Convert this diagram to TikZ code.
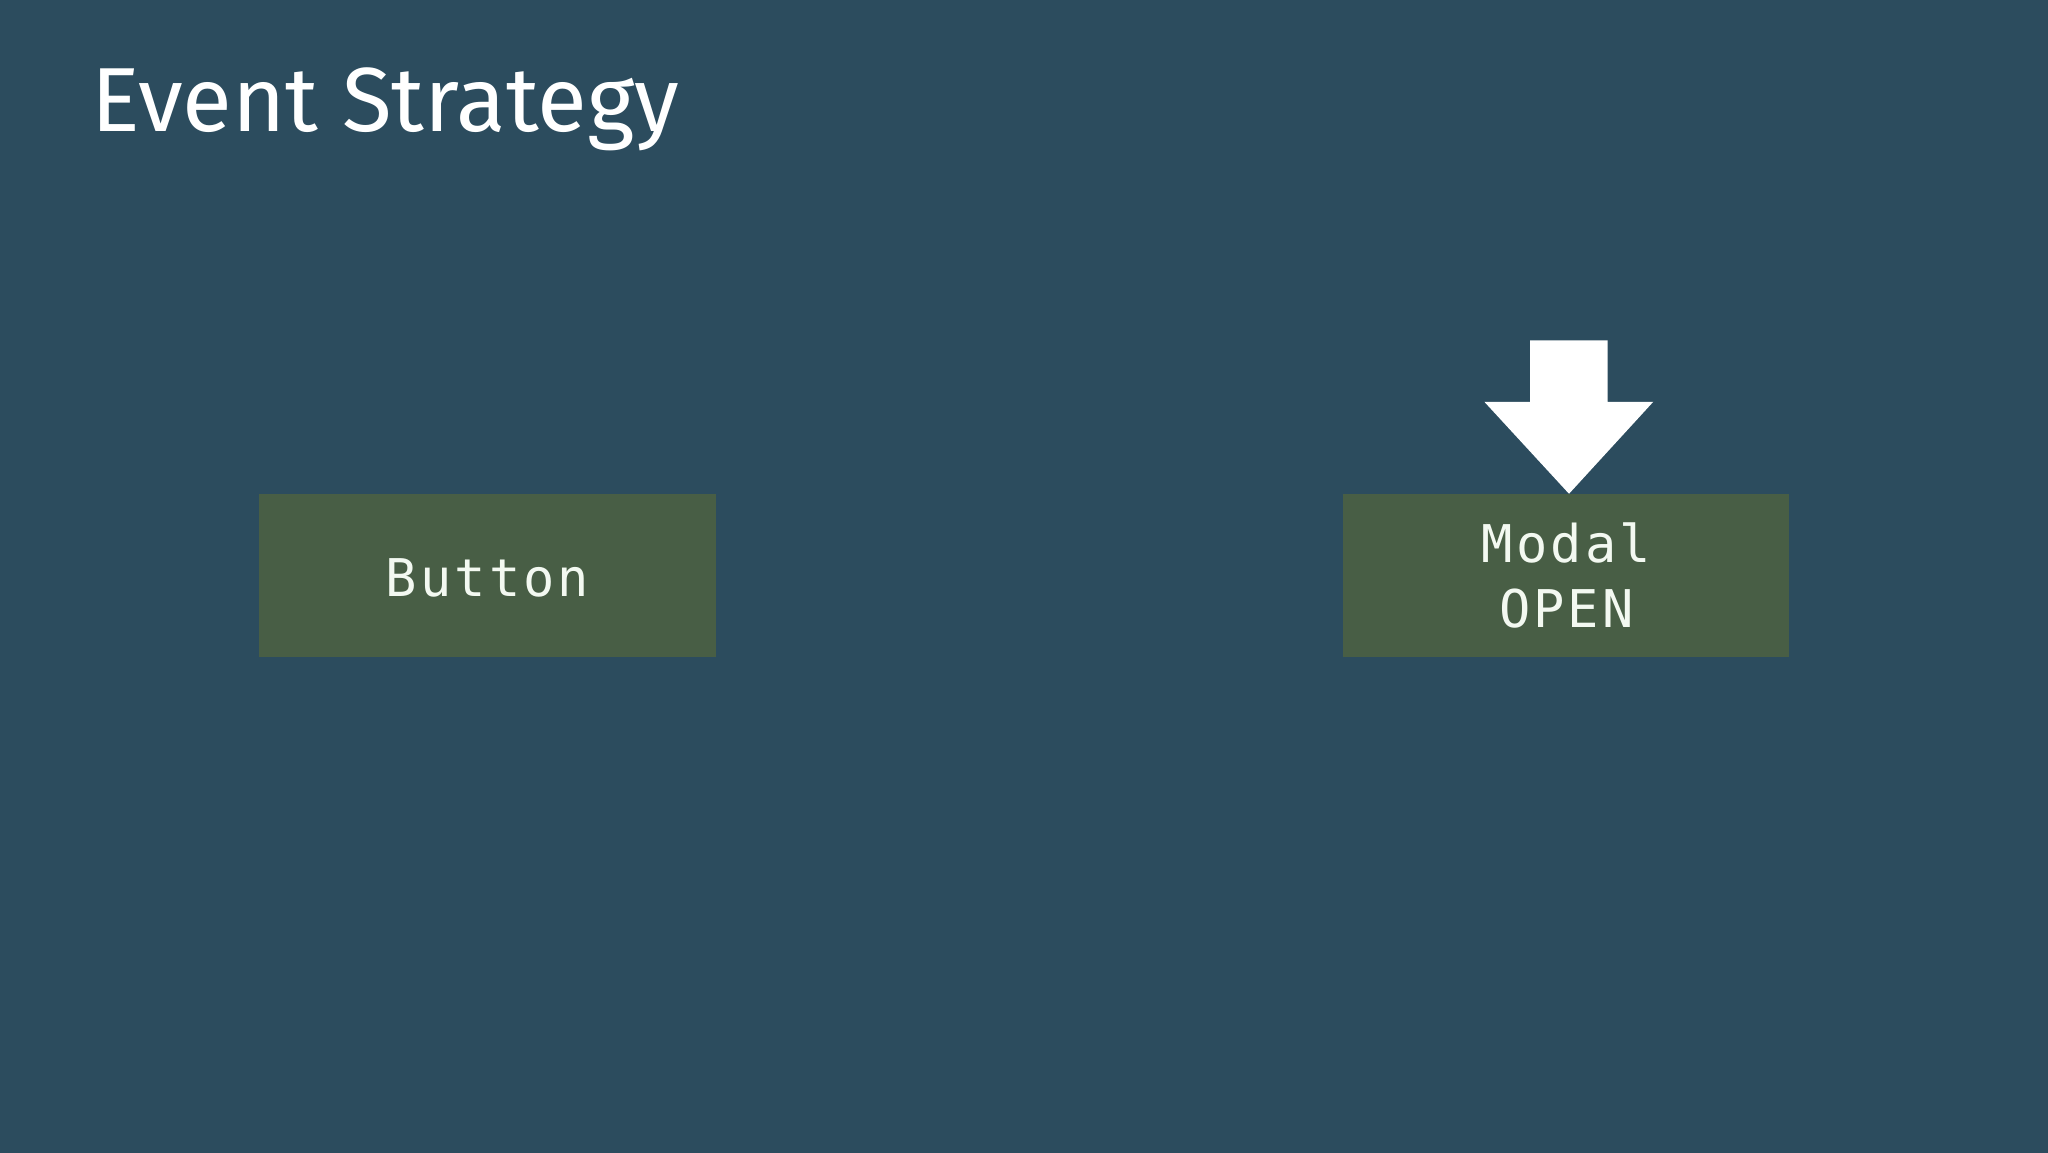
\documentclass[tikz,border=0pt]{standalone}
\usepackage{fontspec}
\setmainfont{Fira Sans}
\newfontfamily\codefont[LetterSpace=6]{DejaVu Sans Mono}
\definecolor{bgblue}{HTML}{2C4C5E}
\definecolor{boxgreen}{HTML}{485E45}
\definecolor{txtwhite}{HTML}{F3F9F1}
\tikzset{
  codebox/.style={fill=boxgreen, draw=none, text=txtwhite, align=center,
    minimum height=162.7pt, inner sep=0pt,
    font=\codefont\fontsize{52}{65.3}\selectfont},
  titletext/.style={text=white, inner sep=0pt, font=\fontsize{91}{100}\selectfont},
  bigarrow/.style={fill=white, draw=none}
}
\begin{document}
\begin{tikzpicture}[x=1pt,y=-1pt]
\useasboundingbox (0,0) rectangle (2048,1152);
\fill[bgblue] (-3,-3) rectangle (2051,1155);
\node[titletext, anchor=base west] (title) at (91,131.5) {Event Strategy};
\node[codebox, minimum width=457pt] (button) at (487.5,575.3) {};
\node[text=txtwhite, inner sep=0pt, font=\codefont\fontsize{52}{65.3}\selectfont] (buttonlabel) at ([yshift=-3pt]button.center) {Button};
\node[codebox, minimum width=446pt] (modal) at (1566.3,575.3) {Modal\\OPEN};
\coordinate (tip) at ([xshift=2.7pt]modal.north);
\fill[bigarrow] (tip) -- ++(-84.7,-92) -- ++(45.7,0) -- ++(0,-61.3) -- ++(77.7,0)
  -- ++(0,61.3) -- ++(45.6,0) -- cycle;
\end{tikzpicture}
\end{document}
